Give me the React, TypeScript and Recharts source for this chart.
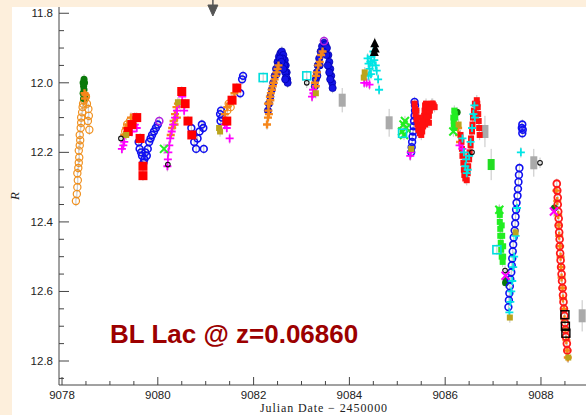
import React from "react";
import { ScatterChart, Scatter, XAxis, YAxis, ErrorBar, ReferenceDot } from "recharts";

// JD - 2450000 vs R magnitude
const orangeCircles = [
  [9078.29, 12.34], [9078.31, 12.32], [9078.32, 12.3], [9078.33, 12.28], [9078.32, 12.26], [9078.34, 12.245],
  [9078.35, 12.23], [9078.36, 12.215], [9078.35, 12.195], [9078.37, 12.18], [9078.38, 12.165], [9078.37, 12.15],
  [9078.39, 12.13], [9078.4, 12.115], [9078.4, 12.1], [9078.42, 12.085], [9078.43, 12.07], [9078.44, 12.06],
  [9078.46, 12.05], [9078.48, 12.045], [9078.5, 12.04], [9078.52, 12.06], [9078.55, 12.075], [9078.56, 12.095],
  [9078.54, 12.11], [9078.57, 12.135],
  [9079.32, 12.14], [9079.36, 12.12], [9079.42, 12.11], [9081.45, 12.08], [9081.48, 12.06], [9081.52, 12.07],
];
const greenDark = [
  [9078.44, 12.0], [9078.46, 11.99], [9078.47, 12.0], [9078.45, 12.01], [9078.46, 12.02], [9078.44, 12.03],
  [9078.47, 12.04], [9078.45, 12.045], [9086.25, 12.085], [9087.26, 12.575], [9087.27, 12.565], [9088.28, 12.36],
];
const blueCircles = [
  [9079.6, 12.17], [9079.62, 12.19], [9079.65, 12.2], [9079.67, 12.21], [9079.7, 12.23], [9079.72, 12.22],
  [9079.74, 12.2], [9079.77, 12.21], [9079.79, 12.19], [9079.82, 12.17], [9079.85, 12.16], [9079.88, 12.15],
  [9079.92, 12.14], [9079.96, 12.13], [9080.0, 12.12],
  [9080.7, 12.13], [9080.73, 12.15], [9080.76, 12.17], [9080.8, 12.19], [9080.83, 12.16], [9080.87, 12.14],
  [9080.92, 12.12], [9080.95, 12.13], [9080.96, 12.19],
  [9081.3, 12.09], [9081.32, 12.08], [9081.34, 12.1], [9081.31, 12.11], [9081.72, 12.03], [9081.76, 11.99], [9081.78, 11.98],
  [9085.29, 12.2], [9085.3, 12.185], [9085.31, 12.17], [9085.32, 12.155], [9085.33, 12.14], [9085.34, 12.125],
  [9085.35, 12.11], [9085.36, 12.095], [9085.37, 12.08], [9085.37, 12.065], [9085.36, 12.055],
  [9087.32, 12.645], [9087.33, 12.625], [9087.34, 12.605], [9087.35, 12.585], [9087.36, 12.565], [9087.38, 12.545],
  [9087.39, 12.525], [9087.4, 12.505], [9087.41, 12.485], [9087.42, 12.465], [9087.43, 12.445], [9087.45, 12.425],
  [9087.46, 12.405], [9087.47, 12.385], [9087.48, 12.365], [9087.49, 12.345], [9087.51, 12.325], [9087.52, 12.305],
  [9087.53, 12.285], [9087.54, 12.265], [9087.55, 12.245], [9087.6, 12.13], [9087.61, 12.12], [9087.62, 12.135], [9087.61, 12.145],
];
const blueDense = [
  [9082.3, 12.08], [9082.32, 12.06], [9082.35, 12.04], [9082.38, 12.02], [9082.41, 12.0], [9082.44, 11.98],
  [9082.47, 11.96], [9082.5, 11.94], [9082.53, 11.925], [9082.56, 11.915], [9082.59, 11.91], [9082.62, 11.92],
  [9082.65, 11.935], [9082.67, 11.95], [9082.69, 11.97], [9082.7, 11.99], [9082.71, 12.0], [9082.6, 11.93],
  [9082.64, 11.95], [9082.66, 11.97], [9082.68, 11.985], [9082.55, 11.93], [9082.58, 11.94], [9082.62, 11.96],
  [9082.66, 11.99], [9082.52, 11.95], [9082.48, 11.975],
  [9083.28, 12.01], [9083.3, 11.99], [9083.32, 11.97], [9083.34, 11.95], [9083.37, 11.93], [9083.4, 11.91],
  [9083.43, 11.895], [9083.47, 11.885], [9083.5, 11.89], [9083.53, 11.9], [9083.56, 11.92], [9083.58, 11.94],
  [9083.6, 11.96], [9083.62, 11.98], [9083.64, 12.0], [9083.65, 12.015], [9083.52, 11.92], [9083.55, 11.95],
  [9083.58, 11.97], [9083.33, 11.98], [9083.45, 11.91], [9083.6, 11.99], [9083.38, 11.95],
];
const orangePlus = [
  [9078.47, 12.03], [9078.49, 12.035], [9078.48, 12.045],
  [9079.3, 12.15], [9079.34, 12.13], [9079.38, 12.12], [9079.44, 12.1], [9079.48, 12.12], [9079.52, 12.1], [9079.4, 12.14],
  [9080.27, 12.15], [9080.3, 12.13], [9080.33, 12.11], [9080.36, 12.09], [9080.39, 12.07], [9080.42, 12.06],
  [9080.35, 12.12], [9080.4, 12.1],
  [9081.4, 12.09], [9081.45, 12.07], [9081.5, 12.06], [9081.55, 12.05], [9081.6, 12.03],
  [9082.28, 12.12], [9082.3, 12.1], [9082.31, 12.08], [9082.33, 12.06], [9082.34, 12.04], [9082.36, 12.03],
  [9082.38, 12.02], [9082.4, 12.01], [9082.42, 12.0], [9082.44, 11.99], [9082.46, 11.98], [9082.48, 11.97],
  [9082.5, 11.96], [9082.52, 11.95], [9082.3, 12.06], [9082.35, 12.05], [9082.32, 12.09],
  [9083.28, 12.0], [9083.3, 11.98], [9083.32, 11.97], [9083.35, 11.95], [9083.38, 11.94], [9083.41, 11.92],
  [9083.44, 11.91], [9083.3, 12.01],
  [9086.27, 12.13], [9086.29, 12.15], [9086.31, 12.17],
  [9088.32, 12.31], [9088.34, 12.34], [9088.36, 12.38], [9088.37, 12.41], [9088.38, 12.44], [9088.4, 12.47],
  [9088.41, 12.5], [9088.42, 12.53], [9088.43, 12.56], [9088.45, 12.59], [9088.46, 12.62], [9088.48, 12.65],
  [9088.49, 12.68], [9088.51, 12.71], [9088.53, 12.74], [9088.55, 12.77], [9088.56, 12.79],
];
const redDense = [
  [9085.36, 12.06], [9085.37, 12.075], [9085.38, 12.09], [9085.4, 12.105], [9085.42, 12.12], [9085.44, 12.135],
  [9085.47, 12.145], [9085.5, 12.15], [9085.52, 12.14], [9085.54, 12.125], [9085.55, 12.11], [9085.56, 12.095],
  [9085.57, 12.08], [9085.58, 12.065], [9085.6, 12.06], [9085.62, 12.07], [9085.64, 12.085], [9085.66, 12.095],
  [9085.68, 12.08], [9085.7, 12.07], [9085.72, 12.06], [9085.74, 12.06], [9085.76, 12.065], [9085.78, 12.07],
  [9085.6, 12.1], [9085.63, 12.11], [9085.58, 12.12], [9085.66, 12.115], [9085.45, 12.1], [9085.4, 12.08],
  [9085.48, 12.12], [9085.52, 12.11],
  [9086.32, 12.15], [9086.34, 12.17], [9086.35, 12.19], [9086.36, 12.21], [9086.38, 12.23], [9086.39, 12.25],
  [9086.4, 12.265], [9086.42, 12.275], [9086.45, 12.28], [9086.47, 12.26], [9086.48, 12.24], [9086.5, 12.22],
  [9086.51, 12.2], [9086.53, 12.18], [9086.54, 12.16], [9086.56, 12.14], [9086.57, 12.12], [9086.58, 12.1],
  [9086.6, 12.08], [9086.62, 12.06], [9086.66, 12.05], [9086.68, 12.07], [9086.69, 12.09], [9086.7, 12.11],
  [9086.71, 12.13], [9086.72, 12.15], [9086.67, 12.06],
];
const redCircles = [
  [9088.33, 12.29], [9088.34, 12.31], [9088.35, 12.33], [9088.35, 12.35], [9088.36, 12.37], [9088.37, 12.39],
  [9088.37, 12.41], [9088.38, 12.43], [9088.39, 12.45], [9088.39, 12.47], [9088.4, 12.49], [9088.41, 12.51],
  [9088.42, 12.53], [9088.43, 12.55], [9088.44, 12.57], [9088.45, 12.59], [9088.46, 12.61], [9088.47, 12.63],
  [9088.48, 12.65], [9088.49, 12.67], [9088.5, 12.69], [9088.51, 12.71], [9088.52, 12.73], [9088.54, 12.75], [9088.55, 12.77],
];
const magentaPlus = [
  [9079.25, 12.19], [9079.28, 12.18], [9079.3, 12.17], [9079.46, 12.14], [9079.52, 12.12], [9079.56, 12.13],
  [9080.2, 12.24], [9080.21, 12.22], [9080.22, 12.2], [9080.24, 12.18], [9080.26, 12.16], [9080.29, 12.14],
  [9080.32, 12.12], [9080.36, 12.1], [9080.4, 12.08], [9080.45, 12.06], [9080.51, 12.04], [9080.55, 12.08],
  [9081.44, 12.13], [9081.5, 12.16], [9081.4, 12.12],
  [9083.22, 12.04], [9083.24, 12.02], [9083.25, 12.03],
  [9084.31, 12.0], [9084.36, 12.0], [9084.42, 12.005],
  [9085.27, 12.21], [9085.28, 12.2], [9086.3, 12.18], [9086.36, 12.19],
];
const brightGreen = [
  [9086.17, 12.1], [9086.18, 12.11], [9086.18, 12.12], [9086.19, 12.13], [9086.2, 12.09], [9086.21, 12.1], [9086.19, 12.08],
  [9087.13, 12.365], [9087.14, 12.38], [9087.14, 12.4], [9087.15, 12.42], [9087.15, 12.44], [9087.16, 12.46],
  [9087.17, 12.48], [9087.18, 12.5], [9087.2, 12.515], [9087.21, 12.5], [9087.21, 12.47], [9087.19, 12.44], [9087.18, 12.41],
];
const greenX = [
  [9080.13, 12.19], [9085.1, 12.14], [9085.13, 12.12], [9085.16, 12.11], [9085.19, 12.13], [9085.14, 12.15],
  [9086.17, 12.14], [9087.13, 12.365],
];
const greenRect = [[9086.96, 12.235]];
const cyanSquares = [[9082.2, 11.985], [9083.11, 11.98], [9085.11, 12.145], [9087.08, 12.48]];
const cyanPlus = [
  [9084.38, 11.93], [9084.4, 11.945], [9084.42, 11.96], [9084.44, 11.94], [9084.46, 11.925], [9084.48, 11.95],
  [9084.5, 11.91], [9084.52, 11.935], [9084.55, 11.95], [9084.57, 11.965], [9084.6, 11.99], [9084.62, 12.02],
  [9084.45, 11.975], [9084.4, 11.98],
  [9086.36, 12.16], [9086.39, 12.2], [9086.42, 12.24], [9086.45, 12.26], [9086.47, 12.25], [9086.5, 12.21],
  [9086.53, 12.17], [9086.56, 12.13], [9086.59, 12.09], [9086.61, 12.065], [9086.62, 12.1], [9086.44, 12.22],
  [9087.34, 12.66], [9087.36, 12.63], [9087.38, 12.6], [9087.4, 12.57], [9087.42, 12.53], [9087.44, 12.5],
  [9087.47, 12.44], [9087.5, 12.36], [9087.58, 12.2],
];
const redSquares = [
  [9079.38, 12.14], [9079.46, 12.12], [9079.56, 12.1], [9079.63, 12.16], [9079.69, 12.24], [9079.69, 12.267],
  [9080.5, 12.025], [9080.57, 12.06], [9080.63, 12.11], [9080.71, 12.15],
  [9081.44, 12.11], [9081.55, 12.05], [9081.65, 12.015],
];
const oliveSquares = [
  [9079.34, 12.15], [9080.42, 12.056], [9081.28, 12.13], [9081.3, 12.14], [9083.3, 12.03], [9084.3, 11.985],
  [9084.32, 11.97], [9085.29, 12.19], [9086.28, 12.12], [9087.35, 12.675], [9087.47, 12.43], [9088.57, 12.79],
];
const violetCircles = [[9080.03, 12.11], [9083.47, 11.88]];
const blackCircles = [[9079.23, 12.16], [9080.21, 12.235], [9083.11, 12.0], [9086.56, 12.2], [9087.25, 12.54], [9087.98, 12.23]];
const blackTriangles = [[9084.53, 11.885], [9084.54, 11.9], [9084.52, 11.91]];
const blackSquares = [[9088.5, 12.667], [9088.51, 12.7], [9088.52, 12.72]];
const magentaX = [[9087.26, 12.555], [9088.27, 12.37]];
const grayPoints = [[9083.85, 12.05], [9084.83, 12.115], [9086.83, 12.14], [9087.85, 12.23], [9088.86, 12.67]];
const grayErrors = [0.035, 0.04, 0.045, 0.04, 0.045];
const arrowDate = 9081.15;

const xTicks = [
  9078, 9078.5, 9079, 9079.5, 9080, 9080.5, 9081, 9081.5, 9082, 9082.5, 9083, 9083.5,
  9084, 9084.5, 9085, 9085.5, 9086, 9086.5, 9087, 9087.5, 9088, 9088.5,
];
const yTicks = [
  11.8, 11.85, 11.9, 11.95, 12.0, 12.05, 12.1, 12.15, 12.2, 12.25, 12.3, 12.35,
  12.4, 12.45, 12.5, 12.55, 12.6, 12.65, 12.7, 12.75, 12.8, 12.85,
];

const AX = "#444";
const tickFont = { fontFamily: "Liberation Sans, Arial, sans-serif", fontSize: 11.5, fill: "#222" };
const isMajorX = (v: number) => v % 2 === 0;
const isMajorY = (v: number) => Math.round(v * 100) % 20 === 0;

const mk = (pts: number[][], e = 0.015) => pts.map(([x, y]) => ({ x, y, e }));

const openCircle = (c: string, r = 3.5, w = 1.3) => (p: any) => (
  <circle cx={p.cx} cy={p.cy} r={r} fill="none" stroke={c} strokeWidth={w} />
);
const filledCircle = (c: string, r = 3.5) => (p: any) => <circle cx={p.cx} cy={p.cy} r={r} fill={c} />;
const plus = (c: string, s = 4, w = 1.5) => (p: any) => (
  <path d={`M${p.cx - s},${p.cy}H${p.cx + s}M${p.cx},${p.cy - s}V${p.cy + s}`} stroke={c} strokeWidth={w} />
);
const xMark = (c: string, s = 3.5, w = 1.6) => (p: any) => (
  <path d={`M${p.cx - s},${p.cy - s}L${p.cx + s},${p.cy + s}M${p.cx - s},${p.cy + s}L${p.cx + s},${p.cy - s}`} stroke={c} strokeWidth={w} />
);
const filledSq = (c: string, s = 7) => (p: any) => <rect x={p.cx - s / 2} y={p.cy - s / 2} width={s} height={s} fill={c} />;
const openSq = (c: string, s = 7, w = 1.3) => (p: any) => (
  <rect x={p.cx - s / 2} y={p.cy - s / 2} width={s} height={s} fill="none" stroke={c} strokeWidth={w} />
);
const tri = (c: string, s = 4.5) => (p: any) => (
  <path d={`M${p.cx},${p.cy - s}L${p.cx + s},${p.cy + s}L${p.cx - s},${p.cy + s}Z`} fill={c} />
);
const box = (c: string, w = 7, h = 13) => (p: any) => <rect x={p.cx - w / 2} y={p.cy - h / 2} width={w} height={h} fill={c} />;
const dot = (c: string, r = 3.6) => (p: any) => (
  <circle cx={p.cx} cy={p.cy} r={r} fill={c} stroke="#0000b0" strokeWidth={0.8} />
);

const series = [
  { data: grayPoints.map(([x, y], i) => ({ x, y, e: grayErrors[i] })), shape: box("#aaaaaa") },
  { data: mk(greenRect, 0.045), shape: box("#22dd22", 7, 11) },
  { data: mk(orangeCircles), shape: openCircle("#f0901e", 3.6, 1.2) },
  { data: mk(greenDark), shape: filledCircle("#0b7a0b", 3.5) },
  { data: mk(blueCircles), shape: openCircle("#1010f0", 3.4, 1.6) },
  { data: mk(blueDense), shape: dot("#1414e6") },
  { data: mk(orangePlus), shape: plus("#f5861a", 4, 2.4) },
  { data: mk(redDense), shape: filledSq("#ff1010", 6) },
  { data: mk(redCircles), shape: openCircle("#ff1a1a", 3.4, 1.8) },
  { data: mk(magentaPlus), shape: plus("#ff00ff", 4, 1.8) },
  { data: mk(brightGreen), shape: filledSq("#22ee22", 6) },
  { data: mk(greenX), shape: xMark("#22ee22", 4, 2) },
  { data: mk(cyanSquares), shape: openSq("#00dddd", 8, 1.6) },
  { data: mk(cyanPlus), shape: plus("#00e5e5", 4, 1.8) },
  { data: mk(redSquares), shape: filledSq("#ff0000", 9) },
  { data: mk(oliveSquares), shape: filledSq("#bba41c", 6) },
  { data: mk(violetCircles), shape: openCircle("#b020e0", 3.6, 1.5) },
  { data: mk(blackCircles), shape: openCircle("#111", 2.3, 1.1) },
  { data: mk(blackTriangles), shape: tri("#000") },
  { data: mk(blackSquares), shape: openSq("#000", 8, 1.4) },
  { data: mk(magentaX), shape: xMark("#ff00ff", 4, 2) },
];

const BottomTick = (p: any) => {
  const v = p.payload.value;
  const major = isMajorX(v);
  return (
    <g>
      <line x1={p.x} x2={p.x} y1={p.y} y2={p.y - (major ? 8 : 4)} stroke={AX} />
      {major && (
        <text x={p.x} y={p.y + 14} textAnchor="middle" {...tickFont}>
          {v}
        </text>
      )}
    </g>
  );
};
const TopTick = (p: any) => {
  const major = isMajorX(p.payload.value);
  return <line x1={p.x} x2={p.x} y1={p.y} y2={p.y + (major ? 8 : 4)} stroke={AX} />;
};
const LeftTick = (p: any) => {
  const v = p.payload.value;
  const major = isMajorY(v);
  return (
    <g>
      <line x1={p.x} x2={p.x + (major ? 10 : 5)} y1={p.y} y2={p.y} stroke={AX} />
      {major && (
        <text x={p.x - 6} y={p.y + 4} textAnchor="end" {...tickFont}>
          {v.toFixed(1)}
        </text>
      )}
    </g>
  );
};
const RightTick = (p: any) => {
  const major = isMajorY(p.payload.value);
  return <line x1={p.x} x2={p.x - (major ? 10 : 5)} y1={p.y} y2={p.y} stroke={AX} />;
};

const Arrow = (p: any) => (
  <g fill="#555" stroke="#555">
    <line x1={p.cx} x2={p.cx} y1={p.cy - 8} y2={p.cy} strokeWidth={1.5} />
    <path d={`M${p.cx - 5},${p.cy - 2}L${p.cx + 5},${p.cy - 2}L${p.cx},${p.cy + 9}Z`} />
  </g>
);

const xDomain = [9077.937, 9088.94];
const yDomain = [11.782, 12.869];

export default function App() {
  return (
    <div style={{ position: "fixed", left: 0, top: 0, width: 586, height: 415, background: "#fdefdc", overflow: "hidden" }}>
      <div style={{ position: "absolute", left: 12, top: 7, right: 0, bottom: 0, background: "#fff" }} />
      <div style={{ position: "absolute", left: 0, top: 0 }}>
        <ScatterChart width={586} height={415} margin={{ top: 7, right: 0, bottom: 0, left: 0 }}>
          <XAxis
            xAxisId="b"
            type="number"
            dataKey="x"
            domain={xDomain}
            allowDataOverflow
            ticks={xTicks}
            interval={0}
            height={30}
            tickSize={0}
            tickMargin={0}
            tickLine={false}
            axisLine={{ stroke: AX }}
            tick={<BottomTick />}
          />
          <XAxis
            xAxisId="t"
            orientation="top"
            type="number"
            dataKey="x"
            domain={xDomain}
            allowDataOverflow
            ticks={xTicks}
            interval={0}
            height={0}
            tickSize={0}
            tickMargin={0}
            tickLine={false}
            axisLine={{ stroke: AX }}
            tick={<TopTick />}
          />
          <YAxis
            yAxisId="l"
            type="number"
            dataKey="y"
            domain={yDomain}
            reversed
            allowDataOverflow
            ticks={yTicks}
            interval={0}
            width={59}
            tickSize={0}
            tickMargin={0}
            tickLine={false}
            axisLine={{ stroke: AX }}
            tick={<LeftTick />}
          />
          <YAxis
            yAxisId="r"
            orientation="right"
            type="number"
            dataKey="y"
            domain={yDomain}
            reversed
            allowDataOverflow
            ticks={yTicks}
            interval={0}
            width={0}
            tickSize={0}
            tickMargin={0}
            tickLine={false}
            axisLine={{ stroke: AX }}
            tick={<RightTick />}
          />
          <Scatter xAxisId="t" yAxisId="r" data={mk(grayPoints)} shape={() => <g />} isAnimationActive={false} />
          {series.map((s, i) => (
            <Scatter key={i} xAxisId="b" yAxisId="l" data={s.data} shape={s.shape} isAnimationActive={false}>
              <ErrorBar dataKey="e" direction="y" width={0} stroke="#c4c4c4" strokeWidth={1} />
            </Scatter>
          ))}
          <ReferenceDot xAxisId="b" yAxisId="l" x={arrowDate} y={yDomain[0]} ifOverflow="visible" shape={Arrow} />
        </ScatterChart>
      </div>
      <svg width={586} height={415} style={{ position: "absolute", left: 0, top: 0, pointerEvents: "none" }}>
        <text x={110} y={343} fontFamily="Liberation Sans, Arial, sans-serif" fontWeight="bold" fontSize={26} fill="#9c0000">
          BL Lac @ z=0.06860
        </text>
        <text x={324} y={412} textAnchor="middle" fontFamily="Liberation Serif, serif" fontSize={12} letterSpacing={0.9} fill="#222">
          Julian Date − 2450000
        </text>
        <text x={19} y={196} textAnchor="middle" transform="rotate(-90 19 196)" fontFamily="Liberation Serif, serif" fontStyle="italic" fontSize={13} fill="#222">
          R
        </text>
      </svg>
    </div>
  );
}
